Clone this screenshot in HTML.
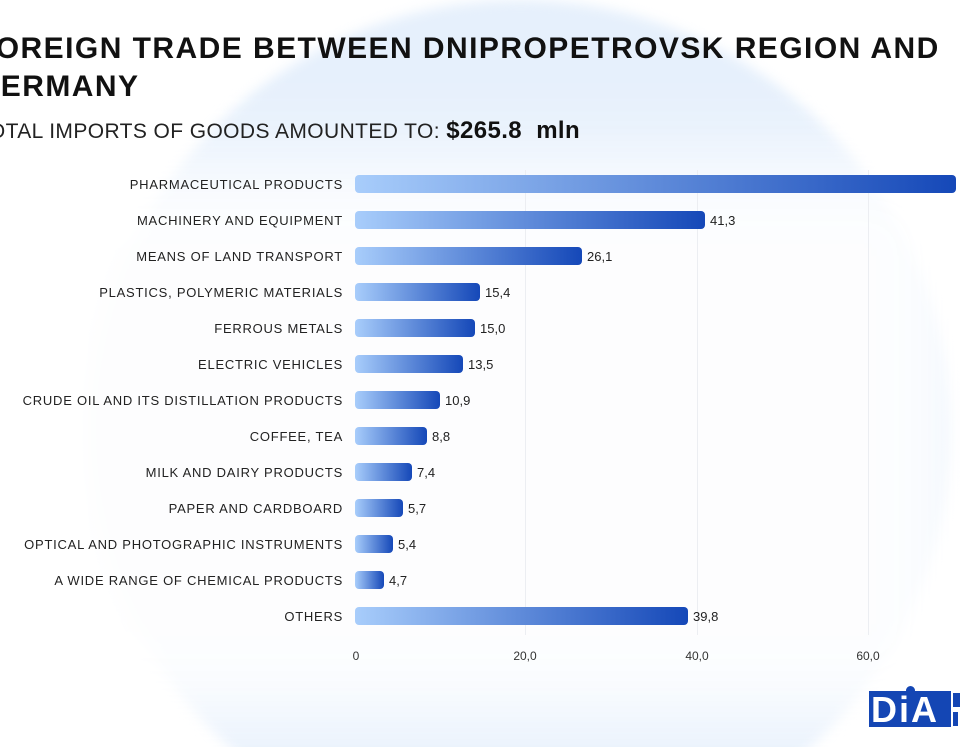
<!DOCTYPE html>
<html style="overflow:hidden;width:960px;height:747px"><head><style>
body{margin:0;width:960px;height:747px;overflow:hidden;background:#fff;font-family:"Liberation Sans",sans-serif;position:relative}
.clip{position:absolute;left:0;top:0;width:960px;height:747px;overflow:hidden}
.circ{position:absolute;left:90px;top:0;width:860px;height:860px;border-radius:50%;background:#e6f0fc;filter:blur(6px)}
.white{position:absolute;left:0;top:160px;width:960px;height:560px;background:#fff;filter:blur(40px);opacity:.92}
.t{position:absolute;left:-24px;font-weight:bold;font-size:30px;color:#111;letter-spacing:1.45px;white-space:nowrap}
.sub{position:absolute;left:-24px;top:117px;font-size:21px;color:#222;letter-spacing:.4px;white-space:nowrap}
.sub b{font-size:24px;color:#111}
.lab{position:absolute;right:617px;font-size:13px;color:#222;text-align:right;white-space:nowrap;letter-spacing:.75px}
.bar{position:absolute;left:355px;height:18px;border-radius:4px;background:linear-gradient(90deg,#a8cdfb,#1548b8)}
.val{position:absolute;font-size:13px;color:#222}
.grid{position:absolute;top:170px;width:1px;height:465px;background:#eceef2}
.tick{position:absolute;top:649px;font-size:12px;color:#333;transform:translateX(-50%)}
</style></head><body>
<div class="clip"><div class="circ"></div><div class="white"></div></div>
<div class="t" style="top:32px">FOREIGN TRADE BETWEEN DNIPROPETROVSK REGION AND</div>
<div class="t" style="top:70px">GERMANY</div>
<div class="sub">TOTAL IMPORTS OF GOODS AMOUNTED TO: <b>$265.8&nbsp; mln</b></div>
<div class="grid" style="left:525px"></div><div class="grid" style="left:697px"></div><div class="grid" style="left:868px"></div>
<div class="tick" style="left:356px">0</div><div class="tick" style="left:525px">20,0</div><div class="tick" style="left:697px">40,0</div><div class="tick" style="left:868px">60,0</div>
<div id="rows"></div>
<div style="position:absolute;left:869px;top:691px;width:82px;height:36px;background:#1446b4"></div>
<div style="position:absolute;left:871px;top:689px;font-weight:bold;font-size:36px;color:#fff;letter-spacing:2px">DiA</div>
<div style="position:absolute;left:906px;top:686px;width:9px;height:9px;border-radius:50%;background:#1446b4"></div>
<div style="position:absolute;left:953px;top:693px;width:7px;height:14px;background:#1446b4"></div>
<div style="position:absolute;left:953px;top:712px;width:5px;height:14px;background:#1446b4"></div>
<script>
var d=[["PHARMACEUTICAL PRODUCTS",956,""],["MACHINERY AND EQUIPMENT",705,"41,3"],["MEANS OF LAND TRANSPORT",582,"26,1"],["PLASTICS, POLYMERIC MATERIALS",480,"15,4"],["FERROUS METALS",475,"15,0"],["ELECTRIC VEHICLES",463,"13,5"],["CRUDE OIL AND ITS DISTILLATION PRODUCTS",440,"10,9"],["COFFEE, TEA",427,"8,8"],["MILK AND DAIRY PRODUCTS",412,"7,4"],["PAPER AND CARDBOARD",403,"5,7"],["OPTICAL AND PHOTOGRAPHIC INSTRUMENTS",393,"5,4"],["A WIDE RANGE OF CHEMICAL PRODUCTS",384,"4,7"],["OTHERS",688,"39,8"]];
var h="";d.forEach(function(r,i){var c=184+36*i;
h+='<div class="lab" style="top:'+(c-7)+'px">'+r[0]+'</div><div class="bar" style="top:'+(c-9)+'px;width:'+(r[1]-355)+'px"></div><div class="val" style="top:'+(c-7)+'px;left:'+(r[1]+5)+'px">'+r[2]+'</div>';});
document.getElementById("rows").innerHTML=h;
</script>
</body></html>
